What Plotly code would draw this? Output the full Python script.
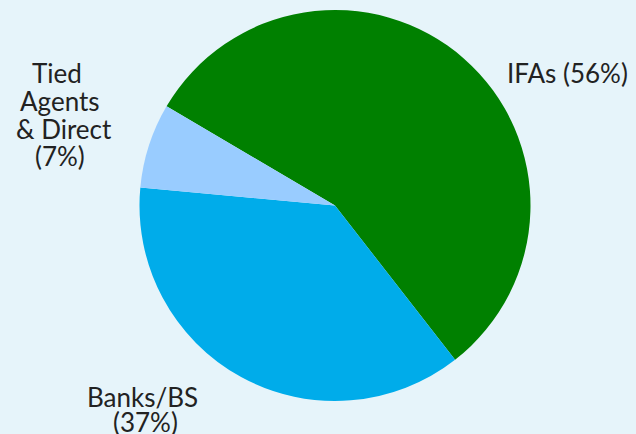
import plotly.graph_objects as go

categories = ["IFAs", "Banks/BS", "Tied Agents & Direct"]
label_lines = [["IFAs (56%)"], ["Banks/BS", "(37%)"], ["Tied", "Agents", "& Direct", "(7%)"]]
values = [56, 37, 7]
colors = ["#008000", "#00ACEA", "#99CCFF"]

W, H = 636, 434
fig = go.Figure()
fig.add_trace(go.Pie(
    labels=categories, values=values, sort=False, direction="clockwise",
    rotation=-59.5, marker=dict(colors=colors, line=dict(width=0)),
    textinfo="none", hoverinfo="label+percent", showlegend=False,
    domain=dict(x=[139 / W, 531 / W], y=[(H - 401) / H, (H - 10) / H]),
))

# label line anchor positions (pixels)
line_pos = [[(567, 73)], [(142, 397), (145, 422)], [(57, 73), (60, 101), (64, 129), (60, 156)]]
for lines, poss in zip(label_lines, line_pos):
    for t, (px, py) in zip(lines, poss):
        fig.add_annotation(text=t, x=px / W, y=1 - py / H, xref="paper", yref="paper",
                           showarrow=False, align="center", xanchor="center", yanchor="middle",
                           font=dict(family="Lato", size=26, color="#222222"))

fig.update_layout(width=W, height=H, margin=dict(l=0, r=0, t=0, b=0),
                  paper_bgcolor="#E6F4FA", plot_bgcolor="#E6F4FA")
fig.write_html("out.html")
